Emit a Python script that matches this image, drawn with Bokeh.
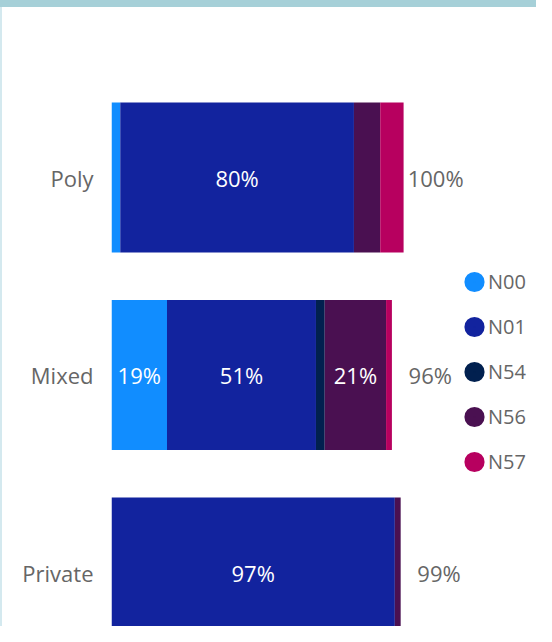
from bokeh.plotting import figure
from bokeh.models import ColumnDataSource, Range1d, FixedTicker, Legend, LegendItem, Div
from bokeh.layouts import column, row
from bokeh.embed import file_html
from bokeh.resources import INLINE
from bokeh.core.properties import value

# ---- data ----
categories = ["Poly", "Mixed", "Private"]
series = ["N00", "N01", "N54", "N56", "N57"]
N00 = [3, 19, 0]
N01 = [80, 51, 97]
N54 = [0, 3, 0]
N56 = [9, 21, 2]
N57 = [8, 2, 0]
totals = [100, 96, 99]
colors = ["#118DFF", "#12239E", "#01204F", "#4A1051", "#B7005F"]

FONT = value("Open Sans")
GREY = "#666666"

values = {"N00": N00, "N01": N01, "N54": N54, "N56": N56, "N57": N57}
n = len(categories)
ypos = [n - 1 - i for i in range(n)]

src = ColumnDataSource(dict(y=ypos, **values))

p = figure(width=534, height=619, output_backend="svg", toolbar_location=None,
           x_range=Range1d(0, 145.5), y_range=Range1d(-0.273, 2.861),
           min_border_left=109, min_border_right=0, min_border_top=0, min_border_bottom=0)
p.outline_line_color = None
p.xgrid.grid_line_color = None
p.ygrid.grid_line_color = None
p.xaxis.visible = False
p.background_fill_color = "white"
p.border_fill_color = "white"

p.hbar_stack(series, y="y", height=0.76, color=colors, line_color=None, source=src)

# segment labels
lab_x, lab_y, lab_t = [], [], []
for i in range(n):
    cum = 0
    for s in series:
        v = values[s][i]
        if v >= 10:
            lab_x.append(cum + v / 2)
            lab_y.append(ypos[i])
            lab_t.append(f"{v}%")
        cum += v
p.text(x=lab_x, y=lab_y, text=lab_t, text_color="white", text_font=FONT,
       text_font_size="22px", text_align="center", text_baseline="middle")

# totals
p.text(x=totals, y=ypos, text=[f"{t}%" for t in totals], x_offset=60,
       text_color=GREY, text_font=FONT, text_font_size="22px",
       text_align="right", text_baseline="middle")

# y axis
p.yaxis.ticker = FixedTicker(ticks=ypos)
p.yaxis.major_label_overrides = {ypos[i]: categories[i] for i in range(n)}
p.yaxis.axis_line_color = None
p.yaxis.major_tick_line_color = None
p.yaxis.minor_tick_line_color = None
p.yaxis.major_label_standoff = 12
p.yaxis.major_label_text_font = "Open Sans"
p.yaxis.major_label_text_font_size = "22px"
p.yaxis.major_label_text_color = GREY

# legend (NaN points: legend glyphs only)
nan = float("nan")
items = []
for s, c in zip(series, colors):
    r = p.scatter(x=[nan], y=[nan], marker="circle", size=11, fill_color=c,
                  line_color=c, line_width=9)
    items.append(LegendItem(label=s, renderers=[r]))
legend = Legend(items=items, location=(349, 142), glyph_width=28, glyph_height=45,
                spacing=0, label_standoff=0, padding=0, margin=0,
                label_text_font="Open Sans", label_text_font_size="20px",
                label_text_color=GREY, background_fill_alpha=0,
                border_line_color=None, label_height=20)
p.add_layout(legend, "center")

teal = Div(text="", width=536, height=7, margin=0,
           styles={"background-color": "#A6D0D8"})
leftb = Div(text="", width=2, height=619, margin=0,
            styles={"background-color": "#D4E9EF"})
layout = column(teal, row(leftb, p, spacing=0), spacing=0)

open("out.html", "w").write(file_html(layout, INLINE))
